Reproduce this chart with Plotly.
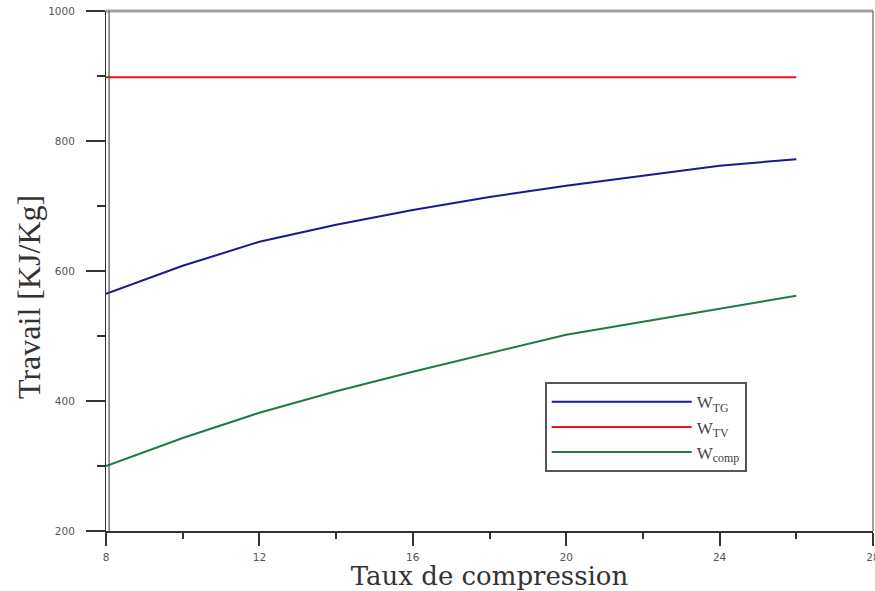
import plotly.graph_objects as go

taux = [8, 10, 12, 14, 16, 18, 20, 22, 24, 26]
w_tg = [565, 608, 645, 671, 694, 714, 731, 747, 762, 772]
w_tv = [898, 898, 898, 898, 898, 898, 898, 898, 898, 898]
w_comp = [300, 343, 382, 415, 445, 474, 502, 522, 542, 562]

names = ["W<sub>TG</sub>", "W<sub>TV</sub>", "W<sub>comp</sub>"]
colors = ["#1a1a8c", "#e8141e", "#1e7a46"]

fig = go.Figure()
for name, ys, c in zip(names, [w_tg, w_tv, w_comp], colors):
    fig.add_trace(go.Scatter(x=taux, y=ys, mode="lines", name=name,
                             line=dict(color=c, width=2)))

tickfont = dict(family="DejaVu Sans, Arial", size=10.5, color="#555555")
fig.update_layout(
    width=875, height=591,
    margin=dict(l=106, r=2, t=11, b=60),
    paper_bgcolor="white", plot_bgcolor="white",
    showlegend=True,
    legend=dict(x=0.572, y=0.286, xanchor="left", yanchor="top",
                bordercolor="#555555", borderwidth=2, bgcolor="white",
                font=dict(family="Liberation Serif, serif", size=17, color="#444444"),
                itemwidth=140, tracegroupgap=0),
    xaxis=dict(range=[8, 28], tickvals=[8, 12, 16, 20, 24, 28],
               ticks="outside", ticklen=13, tickwidth=1.5, tickcolor="#333333",
               minor=dict(tickvals=[10, 14, 18, 22, 26], ticks="outside", ticklen=6, tickcolor="#333333", tickwidth=1.5),
               showgrid=False, zeroline=False, showline=True, linecolor="#333333", linewidth=2,
               tickfont=tickfont, automargin=False, ticklabelstandoff=2,
               ticklabeloverflow="allow",
               title=dict(text="Taux de compression", standoff=10,
                          font=dict(family="DejaVu Serif, serif", size=26, color="#333333"))),
    yaxis=dict(range=[200, 1000], tickvals=[200, 400, 600, 800, 1000],
               ticks="outside", ticklen=19, tickwidth=1.5, tickcolor="#333333",
               minor=dict(tickvals=[300, 500, 700, 900], ticks="outside", ticklen=8, tickcolor="#333333", tickwidth=1.5),
               showgrid=False, zeroline=False, showline=True, linecolor="#333333", linewidth=1,
               tickfont=tickfont, automargin=False, ticklabelstandoff=9,
               ticklabeloverflow="allow"),
)
fig.add_annotation(text="Travail [KJ/Kg]", textangle=-90, showarrow=False,
                   xref="paper", yref="paper", x=-0.1004, y=0.45,
                   xanchor="center", yanchor="middle",
                   font=dict(family="Liberation Serif, serif", size=32, color="#333333"))
# top and right frame lines, and doubled left axis line
fig.add_shape(type="line", xref="paper", yref="paper", x0=0, x1=1, y0=1, y1=1,
              line=dict(color="#a0a0a0", width=3))
fig.add_shape(type="line", xref="paper", yref="paper", x0=1, x1=1, y0=0, y1=1,
              line=dict(color="#444444", width=1))
fig.add_shape(type="line", xref="paper", yref="paper", x0=0.004, x1=0.004, y0=0, y1=1,
              line=dict(color="#333333", width=1))

fig.write_html("out.html", config={"displayModeBar": False},
               post_script="document.body.style.margin='0';document.body.style.overflow='hidden';")
